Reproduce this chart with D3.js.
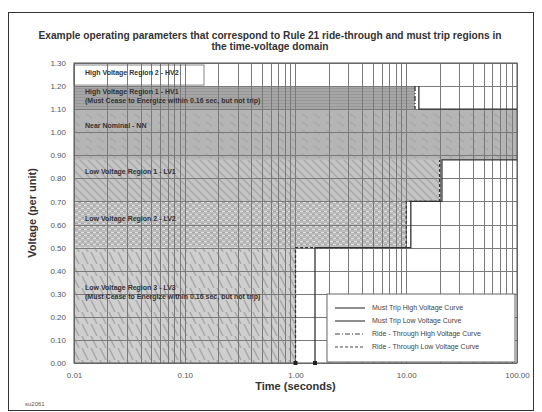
<!DOCTYPE html>
<html>
<head>
<meta charset="utf-8">
<script src="https://cdn.jsdelivr.net/npm/d3@7"></script>
<style>
  body { margin: 0; background: #fff; }
  svg { font-family: "Liberation Sans", Arial, sans-serif; }
</style>
</head>
<body>
<svg id="chart" width="542" height="412"></svg>
<script>
// chart data
const titleLines = [
  'Example operating parameters that correspond to Rule 21 ride-through and must trip regions in',
  'the time-voltage domain'
];
const xTicks = [0.01, 0.1, 1, 10, 100];
const yTicks = d3.range(0, 14).map(i => i / 10);

// regions: [t start, t end, v low, v high]
const regionIds = ['hv2', 'hv1', 'nn', 'lv1', 'lv2', 'lv3'];
const regionBounds = [
  [0.01, 100, 1.2, 1.3],
  [0.01, 12, 1.1, 1.2],
  [0.01, 100, 0.88, 1.1],
  [0.01, 20, 0.7, 0.88],
  [0.01, 10, 0.5, 0.7],
  [0.01, 1, 0.0, 0.5]
];
const regionLabels = [
  ['High Voltage Region 2 - HV2'],
  ['High Voltage Region 1 - HV1', '(Must Cease to Energize within 0.16 sec, but not trip)'],
  ['Near Nominal - NN'],
  ['Low Voltage Region 1 - LV1'],
  ['Low Voltage Region 2 - LV2'],
  ['Low Voltage Region 3 - LV3', '(Must Cease to Energize within 0.16 sec, but not trip)']
];
const labelVolts = [1.25, 1.165, 1.02, 0.82, 0.615, 0.315];

// curves
const mustTripHigh = [[13, 1.2], [13, 1.1], [100, 1.1]];
const mustTripLow = [[1.5, 0], [1.5, 0.5], [11, 0.5], [11, 0.7], [21, 0.7], [21, 0.88], [100, 0.88]];
const rideHigh = [[12, 1.2], [12, 1.1]];
const rideLow = [[1, 0], [1, 0.5], [10, 0.5], [10, 0.7], [20, 0.7], [20, 0.88]];
const markerTimes = [1, 1.5];
const legendNames = [
  'Must Trip High Voltage Curve',
  'Must Trip Low Voltage Curve',
  'Ride - Through High Voltage Curve',
  'Ride - Through Low Voltage Curve'
];
const legendDash = ['none', 'none', '5,2,1,2', '3,2'];

const svg = d3.select('#chart');
const margin = { left: 74, right: 25, top: 63, bottom: 49 };
const W = 542, H = 412;

const x = d3.scaleLog().domain([0.01, 100]).range([margin.left, W - margin.right]);
const y = d3.scaleLinear().domain([0, 1.3]).range([H - margin.bottom, margin.top]);

// outer frame
svg.append('rect')
  .attr('x', 8.5).attr('y', 12.5).attr('width', 525).attr('height', 398)
  .attr('fill', 'none').attr('stroke', '#333').attr('stroke-width', 1);

// patterns
const defs = svg.append('defs');
function pattern(id, w, h, bg, draw) {
  const p = defs.append('pattern').attr('id', id)
    .attr('patternUnits', 'userSpaceOnUse').attr('width', w).attr('height', h);
  p.append('rect').attr('width', w).attr('height', h).attr('fill', bg);
  draw(p);
}
pattern('hv1', 4, 3, '#a6a6a6', p => {
  p.append('path').attr('d', 'M0,1.5H4').attr('stroke', '#989898').attr('stroke-width', 1);
});
pattern('nn', 12, 8, '#b5b5b5', p => {
  p.append('path').attr('d', 'M2,2L8,6').attr('stroke', '#a5a5a5').attr('stroke-width', 1.2);
});
pattern('lv1', 8, 8, '#c4c4c4', p => {
  p.append('path').attr('d', 'M0,0L8,8M-4,4L4,12M4,-4L12,4').attr('stroke', '#a8a8a8').attr('stroke-width', 1.4);
});
pattern('lv2', 6, 6, '#bdbdbd', p => {
  p.append('path').attr('d', 'M0,1.5H3M3,4.5H6').attr('stroke', '#e0e0e0').attr('stroke-width', 1.2);
  p.append('path').attr('d', 'M3,1.5H6M0,4.5H3').attr('stroke', '#a5a5a5').attr('stroke-width', 1.2);
});
pattern('lv3', 9, 12, '#cfcfcf', p => {
  p.append('path').attr('d', 'M1,0L7,12').attr('stroke', '#aaaaaa').attr('stroke-width', 1.6);
});

// region fills
svg.append('g').selectAll('rect')
  .data(regionBounds)
  .join('rect')
  .attr('x', d => x(d[0]))
  .attr('y', d => y(d[3]))
  .attr('width', d => x(d[1]) - x(d[0]))
  .attr('height', d => y(d[2]) - y(d[3]))
  .attr('fill', (d, i) => i === 0 ? '#fff' : `url(#${regionIds[i]})`);

// grid
const minor = [];
[0.01, 0.1, 1, 10].forEach(dec => { for (let k = 1; k <= 9; k++) minor.push(dec * k); });
minor.push(100);
const grid = svg.append('g').attr('stroke', '#7a7a7a').attr('stroke-width', 1);
grid.selectAll('line.v').data(minor).join('line').attr('class', 'v')
  .attr('x1', d => Math.round(x(d)) + 0.5).attr('x2', d => Math.round(x(d)) + 0.5)
  .attr('y1', y(1.3)).attr('y2', y(0));
grid.selectAll('line.h').data(yTicks).join('line').attr('class', 'h')
  .attr('x1', x(0.01)).attr('x2', x(100))
  .attr('y1', d => Math.round(y(d)) + 0.5).attr('y2', d => Math.round(y(d)) + 0.5);

// plot border
svg.append('rect')
  .attr('x', x(0.01)).attr('y', y(1.3))
  .attr('width', x(100) - x(0.01)).attr('height', y(0) - y(1.3))
  .attr('fill', 'none').attr('stroke', '#555');

// curves
const line = d3.line().x(d => x(d[0])).y(d => y(d[1]));
const curves = [mustTripHigh, mustTripLow, rideHigh, rideLow];
svg.append('g').selectAll('path')
  .data(curves)
  .join('path')
  .attr('d', line)
  .attr('fill', 'none')
  .attr('stroke', '#333')
  .attr('stroke-width', 1.3)
  .attr('stroke-dasharray', (d, i) => legendDash[i]);

svg.append('g').selectAll('rect').data(markerTimes).join('rect')
  .attr('x', d => x(d) - 2).attr('y', y(0) - 2).attr('width', 4).attr('height', 4).attr('fill', '#222');

// region labels
const lab = svg.append('g').attr('font-size', 7).attr('font-weight', 'bold').attr('fill', '#333');
regionLabels.forEach((lines, i) => {
  const t = lab.append('text').attr('x', 85).attr('y', y(labelVolts[i]));
  lines.forEach((s, j) => t.append('tspan').attr('x', 85).attr('dy', j ? 9 : 0).text(s));
});
// box round HV2 label
svg.append('rect')
  .attr('x', x(0.01)).attr('y', y(1.3) + 2)
  .attr('width', 130).attr('height', y(1.2) - y(1.3) - 3)
  .attr('fill', 'none').attr('stroke', '#666').attr('stroke-width', 0.8);

// axes
const yAxis = svg.append('g')
  .attr('transform', `translate(${x(0.01)},0)`)
  .call(d3.axisLeft(y).tickValues(yTicks).tickFormat(d3.format('.2f')).tickSize(0).tickPadding(8));
yAxis.select('.domain').remove();
yAxis.selectAll('text').attr('font-size', 8).attr('fill', '#555').attr('font-family', 'Liberation Sans, Arial, sans-serif');

const xAxis = svg.append('g')
  .attr('transform', `translate(0,${y(0)})`)
  .call(d3.axisBottom(x).tickValues(xTicks).tickFormat(d3.format('.2f')).tickSize(0).tickPadding(9));
xAxis.select('.domain').remove();
xAxis.selectAll('text').attr('font-size', 8).attr('fill', '#555').attr('font-family', 'Liberation Sans, Arial, sans-serif');

svg.append('text')
  .attr('transform', `translate(36,${(y(0) + y(1.3)) / 2}) rotate(-90)`)
  .attr('text-anchor', 'middle').attr('font-size', 11).attr('font-weight', 'bold').attr('fill', '#333')
  .text('Voltage (per unit)');
svg.append('text')
  .attr('x', x(1)).attr('y', 390).attr('text-anchor', 'middle')
  .attr('font-size', 11).attr('font-weight', 'bold').attr('fill', '#333')
  .text('Time (seconds)');

// title
svg.append('g').selectAll('text').data(titleLines).join('text')
  .attr('x', 270).attr('y', (d, i) => 39 + i * 11)
  .attr('text-anchor', 'middle').attr('font-size', 10.2).attr('font-weight', 'bold').attr('fill', '#333')
  .text(d => d);

svg.append('text').attr('x', 25).attr('y', 406).attr('font-size', 6).attr('fill', '#555').text('su2061');

// legend
const lg = svg.append('g').attr('transform', 'translate(327,294)');
lg.append('rect').attr('width', 188).attr('height', 68).attr('fill', '#fff').attr('stroke', '#666');
const li = lg.selectAll('g').data(legendNames).join('g')
  .attr('transform', (d, i) => `translate(0,${14 + i * 13})`);
li.append('line').attr('x1', 8).attr('x2', 38)
  .attr('stroke', '#444').attr('stroke-width', 1.2)
  .attr('stroke-dasharray', (d, i) => legendDash[i]);
li.append('text').attr('x', 45).attr('dy', '0.35em').attr('font-size', 7).attr('fill', '#444').text(d => d);
</script>
</body>
</html>
